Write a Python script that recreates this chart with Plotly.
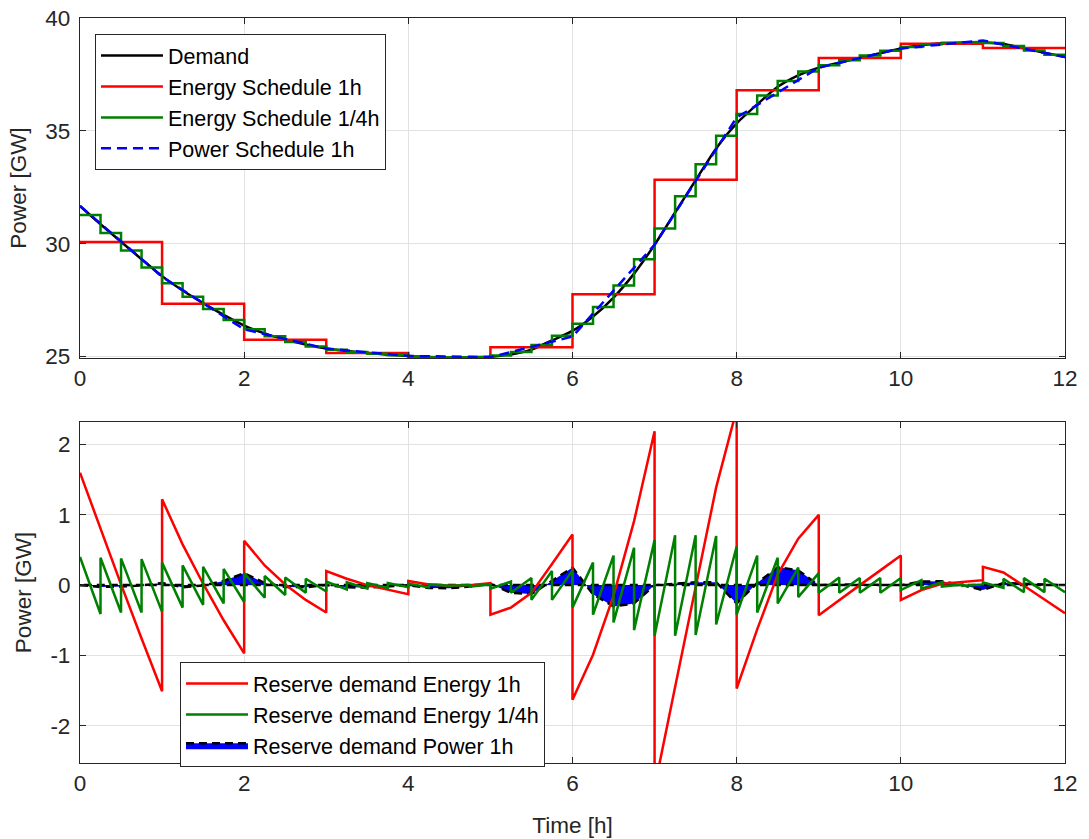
import plotly.graph_objects as go

# ---------------- data ----------------
hours = list(range(13))                      # 0..12 h
quarter_times = [i / 4 for i in range(49)]   # 0, 0.25, ..., 12 h

demand = [31.67, 30.86, 30.08, 29.31, 28.56, 27.92, 27.36, 26.84, 26.37,
          26.02, 25.75, 25.53, 25.35, 25.24, 25.15, 25.08, 25.02,
          24.97, 24.95, 24.96, 24.99, 25.09, 25.30, 25.71, 26.13,
          26.77, 27.61, 28.67, 29.95, 31.38, 32.81, 34.22, 35.33,
          36.17, 36.95, 37.46, 37.80, 38.02, 38.23, 38.44, 38.65,
          38.79, 38.88, 38.91, 38.93, 38.85, 38.66, 38.46, 38.27]

energy_schedule_1h = [30.07, 27.34, 25.74, 25.15, 24.96, 25.41,
                      27.76, 32.83, 36.80, 38.23, 38.86, 38.67]

energy_schedule_15min = [31.27, 30.47, 29.70, 28.94, 28.24, 27.64, 27.10, 26.61,
                         26.20, 25.89, 25.64, 25.44, 25.30, 25.20, 25.12, 25.05,
                         25.00, 24.96, 24.96, 24.98, 25.04, 25.20, 25.51, 25.92,
                         26.45, 27.19, 28.14, 29.31, 30.67, 32.10, 33.52, 34.78,
                         35.75, 36.56, 37.21, 37.63, 37.91, 38.13, 38.34, 38.55,
                         38.72, 38.84, 38.90, 38.92, 38.89, 38.76, 38.56, 38.37]

power_schedule_1h = [31.67, 28.53, 26.20, 25.35, 25.02, 24.97, 25.88,
                     29.95, 35.59, 37.80, 38.65, 39.00, 38.27]

reserve_power_1h = [0.00, -0.025, -0.02, -0.005, 0.03, -0.03, -0.005, 0.06, 0.17,
                    0.03, -0.025, -0.03, 0.00, -0.03, -0.035, -0.02, 0.00,
                    -0.04, -0.045, -0.02, 0.02, -0.11, -0.125, 0.06, 0.25,
                    -0.13, -0.305, -0.26, 0.00, 0.02, 0.04, 0.04, -0.26,
                    0.03, 0.255, 0.21, 0.00, 0.01, 0.005, 0.00, 0.00,
                    0.05, 0.055, 0.00, -0.07, 0.03, 0.025, 0.01, 0.00]

x_ticks = [0, 2, 4, 6, 8, 10, 12]
y_ticks_top = [25, 30, 35, 40]
y_ticks_bottom = [-2, -1, 0, 1, 2]
y_ticklabels_bottom = ["-2", "-1", "0", "1", "2"]

# ---------------- reserve curves: demand minus schedule ----------------
res1h_x, res1h_y = [], []
for h in range(12):
    for k in range(5):
        i = 4 * h + k
        res1h_x.append(quarter_times[i])
        res1h_y.append(demand[i] - energy_schedule_1h[h])

res15_x, res15_y = [], []
for q in range(48):
    for i in (q, q + 1):
        res15_x.append(quarter_times[i])
        res15_y.append(demand[i] - energy_schedule_15min[q])

# closed polygon of the power-schedule reserve (curve, then back along zero)
area_x = quarter_times + quarter_times[::-1]
area_y = reserve_power_1h + [0.0] * len(quarter_times)

FONT = "Liberation Sans, Arial, sans-serif"
FS = 22.5
FS_LEG = 21.5
AXC = "#262626"
GRID = "#e2e2e2"
LW = 2.5

fig = go.Figure()

# ---- top panel ----
fig.add_trace(go.Scatter(x=quarter_times, y=demand, mode="lines", name="Demand",
                         line=dict(color="black", width=LW, shape="spline", smoothing=0.6),
                         xaxis="x", yaxis="y", legend="legend"))
fig.add_trace(go.Scatter(x=hours, y=energy_schedule_1h + [energy_schedule_1h[-1]],
                         mode="lines", name="Energy Schedule 1h",
                         line=dict(color="#ff0000", width=LW, shape="hv"),
                         xaxis="x", yaxis="y", legend="legend"))
fig.add_trace(go.Scatter(x=quarter_times, y=energy_schedule_15min + [energy_schedule_15min[-1]],
                         mode="lines", name="Energy Schedule 1/4h",
                         line=dict(color="#008000", width=LW, shape="hv"),
                         xaxis="x", yaxis="y", legend="legend"))
fig.add_trace(go.Scatter(x=hours, y=power_schedule_1h, mode="lines", name="Power Schedule 1h",
                         line=dict(color="#0000ff", width=LW, dash="10px,6px"),
                         xaxis="x", yaxis="y", legend="legend"))

# ---- bottom panel ----
fig.add_trace(go.Scatter(x=area_x, y=area_y, mode="lines",
                         name="Reserve demand Power 1h", fill="toself",
                         fillcolor="#0000ff",
                         line=dict(color="black", width=2.5, dash="8px,5px"),
                         xaxis="x2", yaxis="y2", legend="legend2", legendrank=3))
fig.add_trace(go.Scatter(x=res1h_x, y=res1h_y, mode="lines",
                         name="Reserve demand Energy 1h",
                         line=dict(color="#ff0000", width=LW),
                         xaxis="x2", yaxis="y2", legend="legend2", legendrank=1))
fig.add_trace(go.Scatter(x=res15_x, y=res15_y, mode="lines",
                         name="Reserve demand Energy 1/4h",
                         line=dict(color="#008000", width=LW),
                         xaxis="x2", yaxis="y2", legend="legend2", legendrank=2))

axis_common = dict(showgrid=True, gridcolor=GRID, gridwidth=1, showline=True,
                   linecolor=AXC, linewidth=1.2, mirror="ticks", ticks="inside",
                   ticklen=6, tickwidth=1.2, tickcolor=AXC, zeroline=False,
                   automargin=False,
                   tickfont=dict(family=FONT, size=FS, color=AXC))

legend_common = dict(xanchor="left", yanchor="top", bgcolor="white",
                     bordercolor=AXC, borderwidth=1,
                     font=dict(family=FONT, size=FS_LEG, color="black"),
                     itemwidth=62, tracegroupgap=0)

title_font = dict(family=FONT, size=FS, color=AXC)

fig.update_layout(
    width=1089, height=839,
    margin=dict(l=80, r=24, t=18, b=76, autoexpand=False),
    paper_bgcolor="white", plot_bgcolor="white",
    font=dict(family=FONT, size=FS, color=AXC),
    xaxis=dict(domain=[0, 1], anchor="y", range=[0, 12], tickvals=x_ticks, **axis_common),
    yaxis=dict(domain=[0.5436, 1], anchor="x", range=[24.93, 40], tickvals=y_ticks_top,
               ticklabelstandoff=4,
               title=dict(text="Power [GW]", font=title_font, standoff=12),
               **axis_common),
    xaxis2=dict(domain=[0, 1], anchor="y2", range=[0, 12], tickvals=x_ticks,
                title=dict(text="Time [h]", font=title_font, standoff=22),
                **axis_common),
    yaxis2=dict(domain=[0, 0.4577], anchor="x2", range=[-2.53, 2.32], tickvals=y_ticks_bottom,
                ticktext=y_ticklabels_bottom, ticklabelstandoff=4,
                title=dict(text="Power [GW]", font=title_font, standoff=12),
                **axis_common),
    legend=dict(x=0.0152, y=0.9785, **legend_common),
    legend2=dict(x=0.1015, y=0.1356, **legend_common),
    showlegend=True,
)

fig.write_html("out.html", config={"displayModeBar": False},
               post_script="document.body.style.margin='0';document.body.style.overflow='hidden';")
